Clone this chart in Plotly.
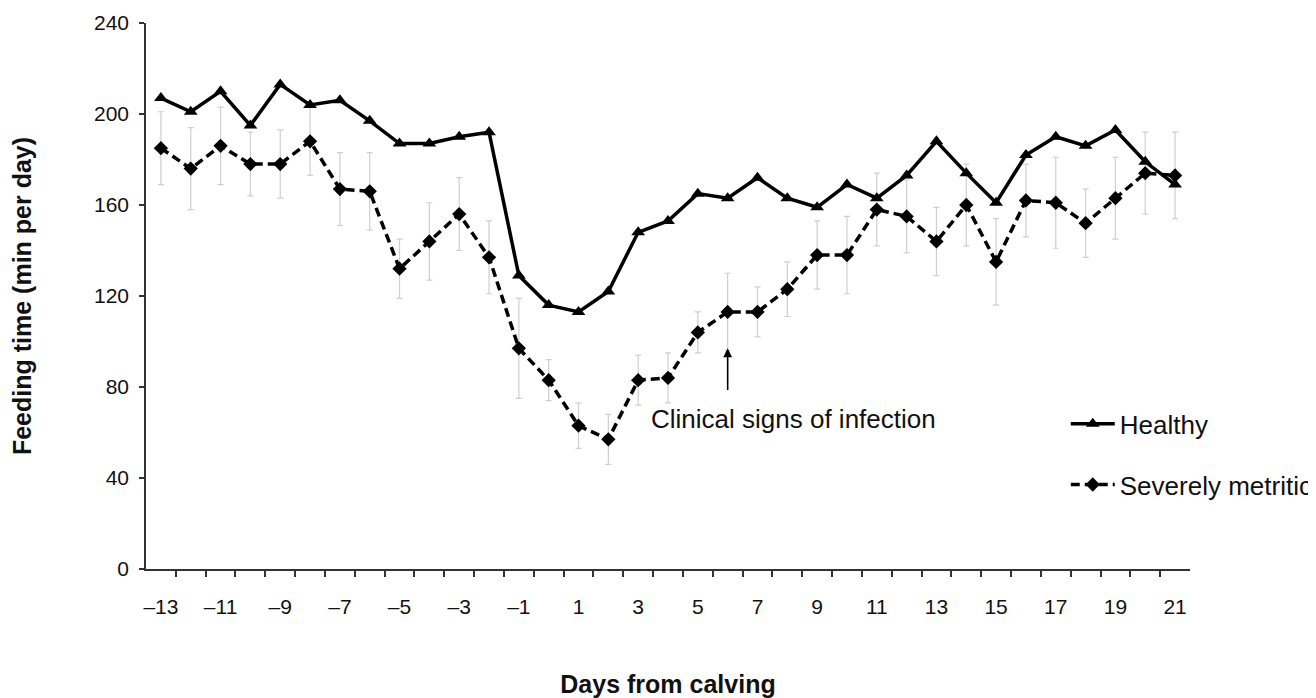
import plotly.graph_objects as go

days = list(range(-13, 22))
healthy = [207, 201, 210, 195, 213, 204, 206, 197, 187, 187, 190, 192,
           129, 116, 113, 122, 148,
           153, 165, 163, 172, 163, 159, 169, 163,
           173, 188, 174, 161, 182, 190, 186, 193, 179, 169]
metritic = [185, 176, 186, 178, 178, 188, 167, 166, 132, 144, 156, 137,
            97, 83, 63, 57, 83,
            84, 104, 113, 113, 123, 138, 138, 158,
            155, 144, 160, 135, 162, 161, 152, 163, 174, 173]
metritic_err = [16, 18, 17, 14, 15, 15, 16, 17, 13, 17, 16, 16,
                22, 9, 10, 11, 11,
                11, 9, 17, 11, 12, 15, 17, 16,
                16, 15, 18, 19, 16, 20, 15, 18, 18, 19]
tick_days = list(range(-13, 22, 2))
tick_text = [("–" + str(-d)) if d < 0 else str(d) for d in tick_days]
y_ticks = [0, 40, 80, 120, 160, 200, 240]
boundaries = [d + 0.5 for d in range(-13, 21)]

annot_day, annot_tip, annot_tail = 6, 97, 78
annot_text = "Clinical signs of infection"

FONT = "Arial, 'Liberation Sans', sans-serif"

fig = go.Figure()

# error bars (below the lines)
fig.add_trace(go.Scatter(
    x=days, y=metritic, mode="markers",
    marker=dict(size=1, color="rgba(0,0,0,0)"),
    error_y=dict(type="data", array=metritic_err, visible=True,
                 color="#cfcfcf", thickness=1.2, width=3),
    showlegend=False, hoverinfo="skip", legendgroup="e"))

fig.add_trace(go.Scatter(
    x=days, y=healthy, mode="lines+markers", name="Healthy",
    line=dict(color="black", width=3.5),
    marker=dict(symbol="triangle-up", size=12, color="black"),
    legendgroup="h"))

fig.add_trace(go.Scatter(
    x=days, y=metritic, mode="lines+markers", name="Severely metritic",
    line=dict(color="black", width=3.5, dash="9px,5px"),
    marker=dict(symbol="diamond", size=11, color="black"),
    legendgroup="m"))

fig.add_annotation(x=annot_day, y=annot_tip, ax=annot_day, ay=annot_tail,
                   xref="x", yref="y", axref="x", ayref="y",
                   showarrow=True, arrowhead=2, arrowsize=1.1, arrowwidth=1.6,
                   arrowcolor="black", text="")
fig.add_annotation(x=annot_day + 2.2, y=66, xref="x", yref="y",
                   text=annot_text, showarrow=False,
                   font=dict(size=26, color="#111", family=FONT))

# page body has an 8px margin: figure is 8px smaller, margins shifted
fig.update_layout(
    width=1308, height=690,
    margin=dict(l=138, r=126, t=15, b=129, autoexpand=False),
    plot_bgcolor="white", paper_bgcolor="white",
    font=dict(family=FONT, color="#111"),
    showlegend=True,
    legend=dict(x=0.881, y=0.309, xanchor="left", yanchor="top",
                font=dict(size=26, family=FONT, color="#111"),
                traceorder="grouped", tracegroupgap=24,
                itemwidth=44, bgcolor="rgba(0,0,0,0)"),
    xaxis=dict(range=[-13.5, 21.5], tickmode="array",
               tickvals=tick_days, ticktext=tick_text, ticks="",
               ticklabelstandoff=18,
               tickfont=dict(size=21, family=FONT, color="#111"),
               minor=dict(tickmode="array", tickvals=boundaries,
                          ticks="outside", ticklen=6, tickwidth=1.5,
                          tickcolor="#333", showgrid=False),
               showline=True, linecolor="#333", linewidth=1.5,
               showgrid=False, zeroline=False,
               title=dict(text="<b>Days from calving</b>", standoff=63,
                          font=dict(size=25, family=FONT, color="#111"))),
    yaxis=dict(range=[0, 240], tickmode="array", tickvals=y_ticks,
               ticks="outside", ticklen=5, tickwidth=1.5, tickcolor="#333",
               tickfont=dict(size=21, family=FONT, color="#111"),
               ticklabelstandoff=6,
               showline=True, linecolor="#333", linewidth=1.5,
               showgrid=False, zeroline=False,
               title=dict(text="<b>Feeding time (min per day)</b>", standoff=58,
                          font=dict(size=25, family=FONT, color="#111"))),
)

fig.write_html("out.html")
